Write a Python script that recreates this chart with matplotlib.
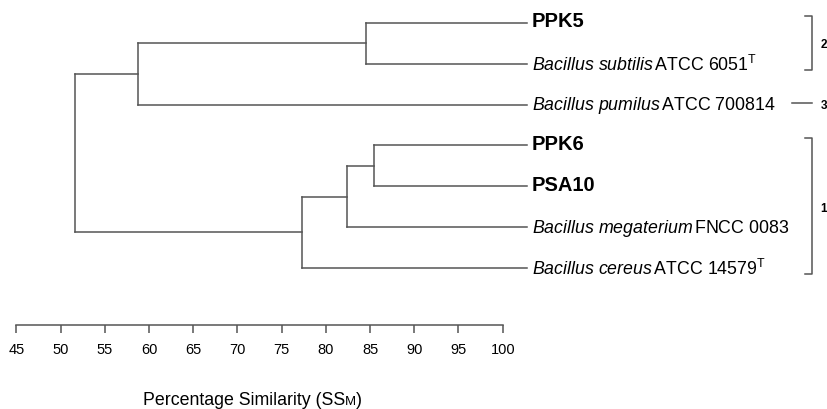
import matplotlib
matplotlib.use("Agg")
import matplotlib.pyplot as plt

# leaves, top to bottom
leaf_names = ["PPK5", "Bacillus subtilis", "Bacillus pumilus", "PPK6", "PSA10",
              "Bacillus megaterium", "Bacillus cereus"]
leaf_strains = ["", "ATCC 6051", "ATCC 700814", "", "", "FNCC 0083", "ATCC 14579"]
type_strain = [False, True, False, False, False, False, True]
isolates = [True, False, False, True, True, False, False]

# merges: (left child, right child, similarity %); children >= 7 are earlier merges
merges = [(0, 1, 84.5),
          (7, 2, 58.8),
          (3, 4, 85.5),
          (9, 5, 82.4),
          (10, 6, 77.3),
          (8, 11, 51.6)]

# cluster groups (first leaf, last leaf, label)
groups = [(0, 1, "2"), (2, 2, "3"), (3, 6, "1")]

scale_ticks = [45, 50, 55, 60, 65, 70, 75, 80, 85, 90, 95, 100]

fam = "Liberation Sans"
plt.rcParams["font.family"] = [fam, "DejaVu Sans"]
plt.rcParams["mathtext.fontset"] = "custom"
plt.rcParams["mathtext.rm"] = fam
plt.rcParams["mathtext.it"] = fam + ":italic"

line_c = "#555555"
lw = 1.1
leaf_end = 102.7

fig = plt.figure(figsize=(8.28, 4.10), dpi=100)
ax = fig.add_axes([0, 0, 1, 1])
ax.set_xlim(45 - 16.3 / 8.844, 45 + 811.7 / 8.844)
ax.set_ylim(9.454, -0.588)
ax.axis("off")

# node positions
xpos = {i: leaf_end for i in range(len(leaf_names))}
ypos = {i: float(i) for i in range(len(leaf_names))}
for k, (a, b, h) in enumerate(merges):
    node = len(leaf_names) + k
    ax.plot([h, h], [ypos[a], ypos[b]], color=line_c, lw=lw)
    ax.plot([h, xpos[a]], [ypos[a], ypos[a]], color=line_c, lw=lw)
    ax.plot([h, xpos[b]], [ypos[b], ypos[b]], color=line_c, lw=lw)
    xpos[node] = h
    ypos[node] = (ypos[a] + ypos[b]) / 2

# leaf labels
lx = leaf_end + 0.6
for i, name in enumerate(leaf_names):
    if isolates[i]:
        ax.text(lx, i - 0.05, name, fontsize=14.5, fontweight="bold", va="center", ha="left")
    else:
        it = name.replace(" ", r"\ ")
        s = r"$\it{" + it + r"}\,$" + leaf_strains[i]
        if type_strain[i]:
            s += r"$^{\mathrm{T}}$"
        ax.text(lx, i, s, fontsize=12.8, va="center", ha="left")

# group brackets
bx = 45 + (812.5 - 16.3) / 8.844
for first, last, lab in groups:
    if first == last:
        ax.plot([bx - 2.3, bx], [first - 0.05, first - 0.05], color=line_c, lw=lw)
    else:
        top, bot = first - 0.18, last + 0.15
        ax.plot([bx - 0.9, bx, bx, bx - 0.9], [top, top, bot, bot], color=line_c, lw=lw)
    ax.text(bx + 1.3, (first + last) / 2 + 0.02, lab, fontsize=8.5, fontweight="bold",
            va="center", ha="center")

# similarity scale
sax = fig.add_axes([16.3 / 828, (410 - 326) / 410, 486.4 / 828, 0.0001])
sax.set_xlim(45, 100)
sax.set_xticks(scale_ticks)
sax.set_yticks([])
for s in ["top", "left", "right"]:
    sax.spines[s].set_visible(False)
sax.spines["bottom"].set_color(line_c)
sax.spines["bottom"].set_linewidth(lw)
sax.tick_params(axis="x", direction="out", length=6, width=lw, color=line_c,
                labelsize=10.5, pad=6)
sax.patch.set_visible(False)

t1 = fig.text(143 / 828, 5 / 410, "Percentage Similarity (SS", fontsize=12.8,
              ha="left", va="baseline")
t2 = fig.text(0, 0, "M", fontsize=9.5, ha="left", va="baseline")
t3 = fig.text(0, 0, ")", fontsize=12.8, ha="left", va="baseline")
fig.canvas.draw()
r = fig.canvas.get_renderer()
bb = t1.get_window_extent(r)
t2.set_position((bb.x1 / fig.bbox.width, 5 / 410))
bb2 = t2.get_window_extent(r)
t3.set_position((bb2.x1 / fig.bbox.width, 5 / 410))

fig.savefig("out.png", dpi=100)
